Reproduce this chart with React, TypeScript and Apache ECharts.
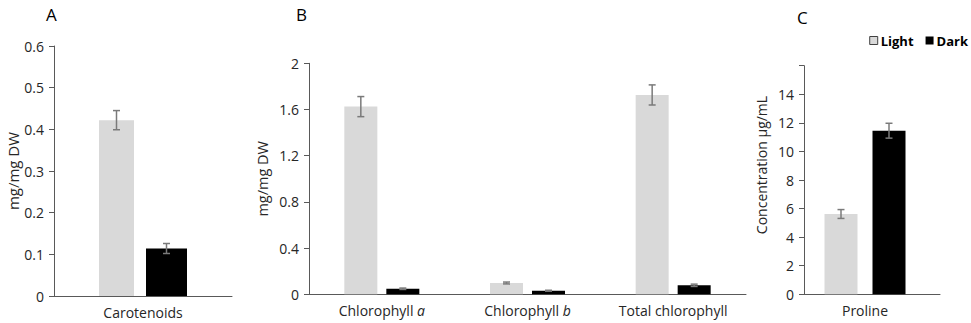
import React, { useEffect, useRef } from "react";
import * as echarts from "echarts";

// ---- Data ----
const carotenoidCategories = ["Carotenoids"];
const carotenoidLight = [0.422];
const carotenoidDark = [0.114];
const carotenoidLightErr = [0.023];
const carotenoidDarkErr = [0.012];

const chlCategories = ["Chlorophyll a", "Chlorophyll b", "Total chlorophyll"];
const chlLight = [1.625, 0.098, 1.726];
const chlDark = [0.048, 0.031, 0.078];
const chlLightErr = [0.087, 0.008, 0.087];
const chlDarkErr = [0.006, 0.004, 0.01];

const prolineCategories = ["Proline"];
const prolineLight = [5.62];
const prolineDark = [11.45];
const prolineLightErr = [0.31];
const prolineDarkErr = [0.52];

const seriesNames = ["Light", "Dark"];
const panelLetters = ["A", "B", "C"];

// ---- Styles ----
const FONT = "Open Sans";
const LIGHT = "#d9d9d9";
const DARK = "#000000";
const ERR = "#7a7a7a";
const AXIS = "#595959";
const TEXT = "#262626";

const barCfg = [
  { w1: 35, w2: 41, gap: 12 / 35 },
  { w1: 33, w2: 33, gap: 9 / 33 },
  { w1: 33, w2: 33, gap: 15 / 33 },
];

function errRenderer(cfg: { w1: number; w2: number; gap: number }) {
  return (params: any, api: any) => {
    const cat = api.value(0);
    const val = api.value(1);
    const err = api.value(2);
    const which = api.value(3);
    const c = api.coord([cat, val]);
    const total = cfg.w1 * (1 + cfg.gap) + cfg.w2;
    const off = which === 0 ? -total / 2 + cfg.w1 / 2 : total / 2 - cfg.w2 / 2;
    const x = c[0] + off;
    const hi = api.coord([cat, val + err])[1];
    const lo = api.coord([cat, val - err])[1];
    const cap = 3.5;
    const style = { stroke: ERR, lineWidth: 1.5 };
    return {
      type: "group",
      children: [
        { type: "line", shape: { x1: x, y1: hi, x2: x, y2: lo }, style },
        { type: "line", shape: { x1: x - cap, y1: hi, x2: x + cap, y2: hi }, style },
        { type: "line", shape: { x1: x - cap, y1: lo, x2: x + cap, y2: lo }, style },
      ],
    };
  };
}

function errData(light: number[], dark: number[], le: number[], de: number[]) {
  const out: number[][] = [];
  light.forEach((v, i) => out.push([i, v, le[i], 0]));
  dark.forEach((v, i) => out.push([i, v, de[i], 1]));
  return out;
}

const axisLabelStyle = { color: TEXT, fontFamily: FONT, fontSize: 14 };

function yAxis(gridIndex: number, max: number, interval: number, name: string, nameGap: number, nameSize: number, extra: any = {}) {
  return {
    type: "value",
    gridIndex,
    min: 0,
    max,
    interval,
    name,
    nameLocation: "middle",
    nameGap,
    nameTextStyle: { color: TEXT, fontFamily: FONT, fontSize: nameSize, ...(extra.nameTextStyle || {}) },
    axisLine: { show: true, lineStyle: { color: AXIS, width: 1 } },
    axisTick: { show: true, length: 5, lineStyle: { color: AXIS } },
    splitLine: { show: false },
    axisLabel: { ...axisLabelStyle, margin: 10, ...(extra.axisLabel || {}) },
  };
}

function xAxis(gridIndex: number, data: string[], extraLabel: any = {}) {
  return {
    type: "category",
    gridIndex,
    data,
    axisLine: { show: true, lineStyle: { color: AXIS, width: 1 } },
    axisTick: { show: false },
    axisLabel: { ...axisLabelStyle, margin: 9, interval: 0, ...extraLabel },
  };
}

export default function App() {
  const ref = useRef<HTMLDivElement>(null);
  useEffect(() => {
    if (!ref.current) return;
    const chart = echarts.init(ref.current, undefined, { renderer: "svg" });
    const grids = [
      { left: 54, top: 46, width: 178, height: 250 },
      { left: 309, top: 63.3, width: 437, height: 231 },
      { left: 804, top: 65.7, width: 122, height: 228.6 },
      // full-length baseline for panel C (its plot area is wider than the bar band)
      { left: 804, top: 65.7, width: 136, height: 228.6 },
    ];
    const letterPos = [
      { left: 46, top: 6 },
      { left: 296, top: 6 },
      { left: 797, top: 9 },
    ];
    const option: any = {
      animation: false,
      backgroundColor: "#ffffff",
      title: panelLetters.map((t, i) => ({
        text: t,
        left: letterPos[i].left,
        top: letterPos[i].top,
        padding: 0,
        textStyle: { fontFamily: FONT, fontSize: 17, fontWeight: "normal", color: "#000" },
      })),
      legend: {
        right: 3,
        top: 34,
        padding: 0,
        itemWidth: 8,
        itemHeight: 8,
        itemGap: 12,
        icon: "rect",
        data: [
          { name: seriesNames[0], itemStyle: { borderColor: "#404040", borderWidth: 1 } },
          { name: seriesNames[1] },
        ],
        textStyle: { fontFamily: FONT, fontSize: 13, fontWeight: "bold", color: "#000", padding: [0, 0, 0, -2] },
      },
      grid: grids,
      xAxis: [
        xAxis(0, carotenoidCategories),
        xAxis(1, chlCategories, {
          formatter: (v: string) => {
            if (v === "Chlorophyll a") return "Chlorophyll {i|a}";
            if (v === "Chlorophyll b") return "Chlorophyll {i|b}";
            return v;
          },
          rich: { i: { fontStyle: "italic", fontFamily: FONT, fontSize: 14, color: TEXT } },
        }),
        xAxis(2, prolineCategories),
        {
          type: "category",
          gridIndex: 3,
          data: [""],
          axisLine: { show: true, lineStyle: { color: AXIS, width: 1 } },
          axisTick: { show: false },
          axisLabel: { show: false },
        },
      ],
      yAxis: [
        yAxis(0, 0.6, 0.1, "mg/mg DW", 32, 15),
        yAxis(1, 2, 0.4, "mg/mg DW", 39, 14.5),
        yAxis(2, 16, 2, "Concentration µg/mL", 36, 14, {
          axisLabel: { formatter: (v: number) => (v === 16 ? "" : String(v)) },
          nameTextStyle: { padding: [0, 0, 0, 30] },
        }),
        { type: "value", gridIndex: 3, min: 0, max: 16, interval: 2, show: false },
      ],
      series: [
        { name: "Light", type: "bar", xAxisIndex: 0, yAxisIndex: 0, data: carotenoidLight, barWidth: barCfg[0].w1, barGap: `${barCfg[0].gap * 100}%`, itemStyle: { color: LIGHT } },
        { name: "Dark", type: "bar", xAxisIndex: 0, yAxisIndex: 0, data: carotenoidDark, barWidth: barCfg[0].w2, barGap: `${barCfg[0].gap * 100}%`, itemStyle: { color: DARK } },
        { name: "Light", type: "bar", xAxisIndex: 1, yAxisIndex: 1, data: chlLight, barWidth: barCfg[1].w1, barGap: `${barCfg[1].gap * 100}%`, itemStyle: { color: LIGHT } },
        { name: "Dark", type: "bar", xAxisIndex: 1, yAxisIndex: 1, data: chlDark, barWidth: barCfg[1].w2, barGap: `${barCfg[1].gap * 100}%`, itemStyle: { color: DARK } },
        { name: "Light", type: "bar", xAxisIndex: 2, yAxisIndex: 2, data: prolineLight, barWidth: barCfg[2].w1, barGap: `${barCfg[2].gap * 100}%`, itemStyle: { color: LIGHT } },
        { name: "Dark", type: "bar", xAxisIndex: 2, yAxisIndex: 2, data: prolineDark, barWidth: barCfg[2].w2, barGap: `${barCfg[2].gap * 100}%`, itemStyle: { color: DARK } },
        {
          type: "custom", xAxisIndex: 0, yAxisIndex: 0, z: 10,
          renderItem: errRenderer(barCfg[0]),
          encode: { x: 0, y: 1 },
          data: errData(carotenoidLight, carotenoidDark, carotenoidLightErr, carotenoidDarkErr),
        },
        {
          type: "custom", xAxisIndex: 1, yAxisIndex: 1, z: 10,
          renderItem: errRenderer(barCfg[1]),
          encode: { x: 0, y: 1 },
          data: errData(chlLight, chlDark, chlLightErr, chlDarkErr),
        },
        {
          type: "custom", xAxisIndex: 2, yAxisIndex: 2, z: 10,
          renderItem: errRenderer(barCfg[2]),
          encode: { x: 0, y: 1 },
          data: errData(prolineLight, prolineDark, prolineLightErr, prolineDarkErr),
        },
      ],
    };
    chart.setOption(option);
    return () => chart.dispose();
  }, []);
  return (
    <div
      ref={ref}
      style={{ position: "fixed", left: 0, top: 0, width: 971, height: 323, background: "#fff" }}
    />
  );
}
